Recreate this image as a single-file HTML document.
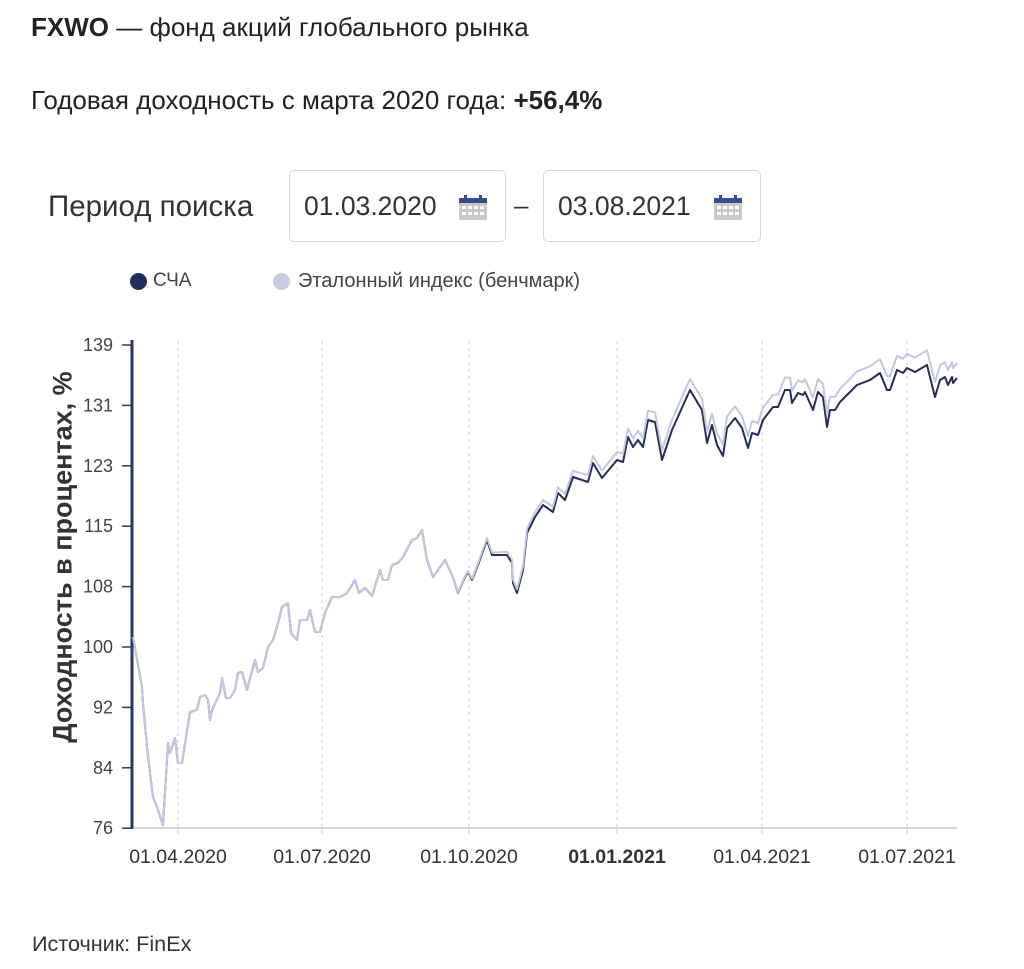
<!DOCTYPE html>
<html><head><meta charset="utf-8"><style>
body{margin:0;width:1024px;height:969px;background:#fff;font-family:"Liberation Sans",sans-serif;color:#222;position:relative;overflow:hidden}
.t{position:absolute;white-space:nowrap}
.box{position:absolute;top:170px;height:72px;border:1px solid #d6d6d6;border-radius:5px;box-sizing:border-box}
.box span{position:absolute;left:14px;top:20px;font-size:26.5px;color:#333}
</style></head><body>
<div class="t" style="left:31px;top:12px;font-size:26px"><b>FXWO</b> — фонд акций глобального рынка</div>
<div class="t" style="left:31px;top:85px;font-size:26px">Годовая доходность с марта 2020 года: <b>+56,4%</b></div>
<div class="t" style="left:48px;top:190px;font-size:29.5px;color:#333">Период поиска</div>
<div class="box" style="left:289px;width:217px"><span>01.03.2020</span>
<svg style="position:absolute;left:167px;top:22px" width="32" height="28"><rect x="2" y="5" width="28" height="22" rx="2" fill="#c8c8cc"/><rect x="2" y="5" width="28" height="5" fill="#3a4a8a"/><rect x="7" y="2" width="3" height="6" fill="#3a4a8a"/><rect x="22" y="2" width="3" height="6" fill="#3a4a8a"/><g fill="#fff"><rect x="5" y="13" width="4" height="3"/><rect x="11" y="13" width="4" height="3"/><rect x="17" y="13" width="4" height="3"/><rect x="23" y="13" width="4" height="3"/><rect x="5" y="19" width="4" height="3"/><rect x="11" y="19" width="4" height="3"/><rect x="17" y="19" width="4" height="3"/><rect x="23" y="19" width="4" height="3"/></g></svg></div>
<div class="t" style="left:514px;top:190px;font-size:26px;color:#333">–</div>
<div class="box" style="left:543px;width:218px"><span>03.08.2021</span>
<svg style="position:absolute;left:168px;top:22px" width="32" height="28"><rect x="2" y="5" width="28" height="22" rx="2" fill="#c8c8cc"/><rect x="2" y="5" width="28" height="5" fill="#3a4a8a"/><rect x="7" y="2" width="3" height="6" fill="#3a4a8a"/><rect x="22" y="2" width="3" height="6" fill="#3a4a8a"/><g fill="#fff"><rect x="5" y="13" width="4" height="3"/><rect x="11" y="13" width="4" height="3"/><rect x="17" y="13" width="4" height="3"/><rect x="23" y="13" width="4" height="3"/><rect x="5" y="19" width="4" height="3"/><rect x="11" y="19" width="4" height="3"/><rect x="17" y="19" width="4" height="3"/><rect x="23" y="19" width="4" height="3"/></g></svg></div>
<div style="position:absolute;left:130px;top:273px;width:17px;height:17px;border-radius:50%;background:#252d5c"></div>
<div class="t" style="left:153px;top:270px;font-size:19px;color:#444">СЧА</div>
<div style="position:absolute;left:273px;top:273px;width:17px;height:17px;border-radius:50%;background:#c7cbe2"></div>
<div class="t" style="left:298px;top:270px;font-size:20px;color:#444">Эталонный индекс (бенчмарк)</div>
<div class="t" style="left:63px;top:557px;font-size:27px;font-weight:bold;color:#333;transform:translate(-50%,-50%) rotate(-90deg)">Доходность в процентах, %</div>
<svg id="c" style="position:absolute;left:0;top:0" width="1024" height="969"></svg>
<div class="t" style="left:32px;top:931px;font-size:21.6px;color:#333">Источник: FinEx</div>
<script>
var s='';
var xs=[178,322,469,617,762,907],lab=['01.04.2020','01.07.2020','01.10.2020','01.01.2021','01.04.2021','01.07.2021'];
xs.forEach(function(x,i){s+='<line x1="'+x+'" y1="341" x2="'+x+'" y2="828" stroke="#ccc" stroke-dasharray="3,4"/>';
s+='<line x1="'+x+'" y1="828" x2="'+x+'" y2="834" stroke="#ccc"/>';
s+='<text x="'+x+'" y="863" text-anchor="middle" font-size="19.5" fill="#333" font-family="Liberation Sans"'+(i==3?' font-weight="bold"':'')+'>'+lab[i]+'</text>';});
s+='<line x1="132" y1="828" x2="957" y2="828" stroke="#ccc" stroke-width="1.5"/>';
var yt=[139,131,123,115,108,100,92,84,76];
yt.forEach(function(v,i){var y=345+i*60.4;s+='<line x1="122" y1="'+y+'" x2="132" y2="'+y+'" stroke="#2b3866" stroke-width="1.5"/>';
s+='<text x="113" y="'+(y+6)+'" text-anchor="end" font-size="18" fill="#444" font-family="Liberation Sans">'+v+'</text>';});
s+='<line x1="132" y1="340" x2="132" y2="829" stroke="#2b3866" stroke-width="3"/>';
var p=[[133,637],[142,687],[143,703],[147,747],[150,773],[153,797],[157,807],[163,825],[168,743],[170,753],[175,738],[178,763],[182,763],[190,712],[197,710],[200,697],[205,695],[208,700],[210,720],[212,710],[220,693],[222,678],[226,698],[230,698],[235,690],[238,673],[242,672],[247,690],[255,660],[258,672],[263,668],[268,647],[273,640],[278,623],[282,607],[288,603],[291,633],[297,640],[300,620],[307,620],[310,610],[315,632],[320,632],[325,613],[332,597],[340,597],[347,593],[355,580],[359,593],[365,588],[372,596],[380,570],[383,580],[388,580],[392,565],[398,563],[403,557],[412,540],[417,538],[422,530],[427,560],[433,577],[438,570],[445,560],[453,577],[458,593],[465,577],[468,572],[472,580],[478,565],[487,540],[492,555],[507,555],[512,563],[513,583],[517,593],[523,570],[527,533],[535,517],[543,505],[553,512],[558,493],[565,500],[573,477],[588,482],[593,463],[602,478],[617,460],[623,462],[628,437],[633,447],[638,440],[643,447],[648,420],[655,422],[662,460],[672,430],[690,390],[702,410],[707,443],[712,425],[717,445],[723,456],[727,428],[735,418],[742,428],[748,448],[752,433],[758,435],[763,420],[773,407],[778,407],[785,390],[790,390],[792,403],[798,393],[803,395],[805,392],[813,410],[818,392],[823,397],[827,427],[830,410],[835,410],[840,402],[850,392],[857,385],[870,380],[880,373],[887,390],[890,390],[897,370],[903,373],[907,368],[915,372],[927,365],[935,397],[940,380],[945,377],[948,385],[952,377],[953,383],[957,378]];
function off(x){if(x<450)return 0;if(x<520)return 4*(x-450)/70;if(x<690)return 4+7*(x-520)/170;return 11+4*(x-690)/267;}
var d=p.map(function(q){return q[0]+','+q[1]}).join(' ');
var b=p.map(function(q){return q[0]+','+(q[1]-off(q[0])).toFixed(1)}).join(' ');
s+='<polyline points="'+d+'" fill="none" stroke="#252d5c" stroke-width="2" stroke-linejoin="round"/>';
s+='<polyline points="'+b+'" fill="none" stroke="#c4c8de" stroke-width="2" stroke-linejoin="round"/>';
document.getElementById('c').innerHTML=s;
</script>
</body></html>
